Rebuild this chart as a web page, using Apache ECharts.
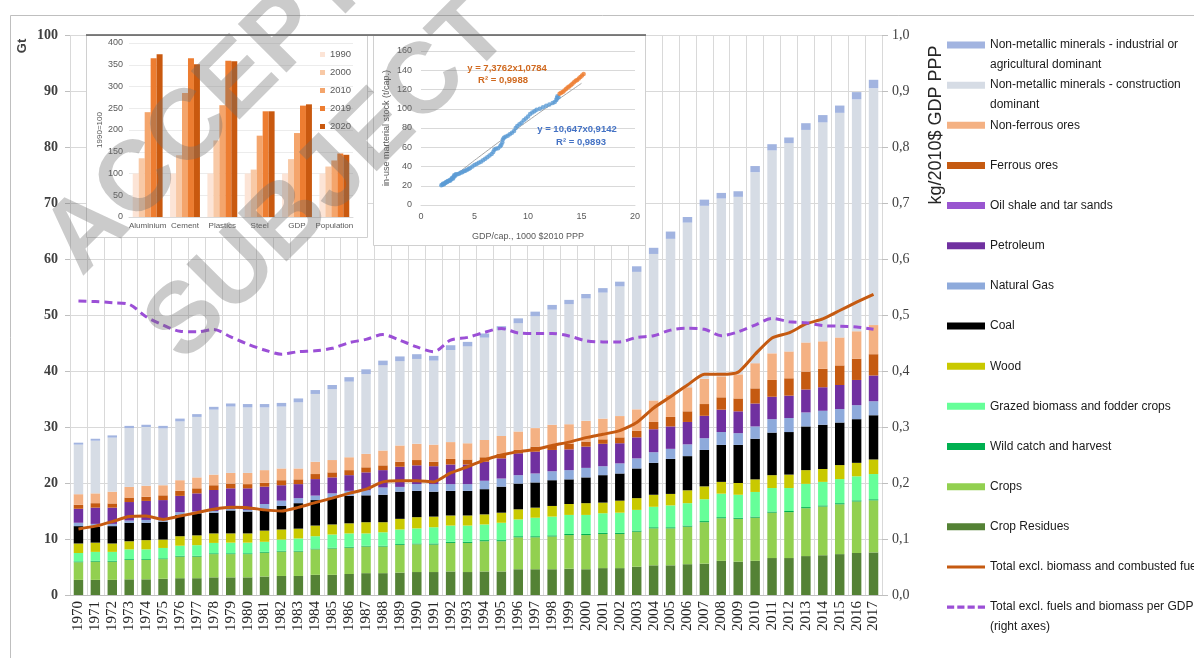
<!DOCTYPE html>
<html>
<head>
<meta charset="utf-8">
<script src="https://cdn.jsdelivr.net/npm/echarts/dist/echarts.min.js"></script>
<style>
  html, body { margin: 0; padding: 0; background: #ffffff; }
  #chart { width: 1194px; height: 658px; }
</style>
</head>
<body>
<div id="chart"></div>
<script>
// ---- Global material extraction, 1970-2017 (Gt) ----
const years = ['1970','1971','1972','1973','1974','1975','1976','1977','1978','1979',
  '1980','1981','1982','1983','1984','1985','1986','1987','1988','1989',
  '1990','1991','1992','1993','1994','1995','1996','1997','1998','1999',
  '2000','2001','2002','2003','2004','2005','2006','2007','2008','2009',
  '2010','2011','2012','2013','2014','2015','2016','2017'];

const cropResidues = [2.7,2.7,2.7,2.8,2.8,2.9,3.0,3.0,3.15,3.15, 3.15,3.3,3.4,3.4,3.6,3.6,3.75,3.9,3.9,4.0,
  4.1,4.1,4.2,4.1,4.2,4.2,4.6,4.6,4.6,4.7, 4.6,4.8,4.8,5.05,5.3,5.3,5.5,5.6,6.1,5.95, 6.1,6.6,6.6,6.95,7.1,7.3,7.5,7.6];
const crops = [3.15,3.25,3.25,3.45,3.45,3.5,3.85,3.85,4.15,4.15, 4.15,4.25,4.35,4.35,4.55,4.7,4.7,4.75,4.75,4.95,
  4.95,4.9,5.1,5.2,5.4,5.4,5.7,5.7,5.85,6.0, 6.1,6.1,6.1,6.25,6.6,6.6,6.7,7.4,7.6,7.65, 7.7,8.1,8.2,8.55,8.7,8.9,9.2,9.3];
const wildCatch = [0.15,0.15,0.15,0.15,0.15,0.15,0.15,0.15,0.15,0.15, 0.15,0.15,0.15,0.15,0.15,0.15,0.15,0.15,0.15,0.15,
  0.15,0.2,0.2,0.2,0.2,0.2,0.2,0.2,0.2,0.2, 0.2,0.2,0.2,0.2,0.2,0.2,0.2,0.2,0.2,0.2, 0.2,0.2,0.2,0.2,0.2,0.2,0.2,0.2];
const grazed = [1.5,1.6,1.6,1.75,1.75,1.85,1.8,1.9,1.85,1.9, 1.9,1.8,2.0,2.2,2.2,2.35,2.4,2.2,2.4,2.6,
  2.7,2.9,2.9,2.9,2.8,3.1,3.0,3.3,3.35,3.4, 3.4,3.5,3.6,3.7,3.65,3.9,4.0,3.9,4.2,4.1, 4.4,4.2,4.1,4.15,4.2,4.3,4.3,4.5];
const wood = [1.7,1.65,1.5,1.45,1.65,1.5,1.7,1.75,1.7,1.65, 1.65,2.0,1.8,1.75,1.9,1.8,1.8,2.0,1.8,1.9,
  2.0,1.9,1.8,1.8,1.8,1.8,1.8,1.8,1.9,1.95, 2.1,1.9,2.15,2.1,2.15,2.05,2.3,2.3,2.1,2.1, 2.25,2.3,2.4,2.45,2.3,2.5,2.4,2.6];
const coal = [3.1,2.85,3.1,3.3,3.1,3.2,3.8,3.95,3.7,4.1, 3.9,3.7,4.2,4.55,4.55,4.8,4.9,4.8,4.9,4.85,
  4.7,4.45,4.4,4.4,4.5,4.65,4.6,4.5,4.6,4.4, 4.6,4.9,4.85,5.3,5.7,6.25,6.1,6.5,6.6,6.8, 7.25,7.6,7.6,7.8,7.9,7.6,7.8,7.9];
const naturalGas = [0.6,0.5,0.4,0.4,0.5,0.4,0.5,0.3,0.3,0.25, 0.3,1.05,0.95,0.9,0.8,0.75,0.9,0.9,1.3,0.85,
  1.2,1.35,1.2,1.2,1.5,1.45,1.5,1.6,1.6,1.65, 1.7,1.6,1.8,1.8,1.9,1.8,2.1,2.1,2.3,2.1, 2.2,2.4,2.5,2.5,2.5,2.4,2.5,2.5];
const petroleum = [2.5,2.9,2.9,3.3,3.4,3.45,2.9,3.25,3.75,3.7, 3.85,3.1,2.75,2.5,2.95,2.85,2.8,3.2,3.1,3.6,
  3.35,3.2,3.5,3.5,3.4,3.6,3.9,3.9,3.8,3.7, 3.8,4.0,3.6,3.75,4.1,4.0,4.0,4.0,4.0,3.9, 4.1,4.0,4.0,4.1,4.2,4.3,4.5,4.6];
const oilShale = [0,0,0,0,0,0,0,0,0,0, 0,0,0,0,0,0,0,0,0,0, 0,0,0,0,0,0,0,0,0,0,
  0,0,0,0,0,0,0,0,0,0, 0,0,0,0,0,0,0,0];
const ferrous = [0.7,0.8,0.75,0.8,0.75,0.85,0.9,0.9,0.85,0.85, 0.75,0.7,0.9,0.85,0.9,0.9,0.9,0.9,0.85,0.9,
  0.95,0.8,1.0,0.9,0.8,0.8,0.6,0.9,0.8,1.0, 0.9,0.8,1.05,1.15,1.3,1.7,1.9,2.1,2.2,2.3, 2.7,3.0,3.1,3.2,3.3,3.5,3.8,3.8];
const nonFerrous = [1.9,1.75,2.1,1.9,1.95,1.8,1.9,1.95,1.9,1.9, 2.0,2.25,2.1,1.95,2.2,2.2,2.3,2.4,2.65,2.9,
  2.9,3.05,3.0,2.9,3.1,3.2,3.3,3.3,3.7,3.5, 3.7,3.7,3.8,3.85,3.85,3.9,4.3,4.5,3.75,4.3, 4.5,4.75,4.8,5.2,4.9,5.0,4.9,5.2];
const construction = [8.85,9.4,9.65,10.5,10.5,10.15,10.5,10.8,11.6,11.85, 11.7,11.2,11.05,11.8,12.1,12.65,13.5,14.25,15.25,15.05,
  15.15,15.0,16.45,17.3,18.25,18.9,19.35,20.0,20.55,21.45, 21.85,22.5,23.15,24.55,26.15,27.9,29.4,30.9,31.75,31.7,
  34.1,36.25,37.2,37.95,39.1,40.1,41.4,42.3];
const industrial = [0.35,0.35,0.4,0.4,0.4,0.45,0.5,0.5,0.5,0.55, 0.6,0.6,0.65,0.7,0.7,0.75,0.8,0.85,0.8,0.85,
  0.85,0.85,0.85,0.8,0.75,0.7,0.85,0.8,0.85,0.75, 0.8,0.8,0.85,1.0,1.1,1.3,1.0,1.1,1.0,1.0, 1.1,1.1,1.0,1.2,1.3,1.3,1.3,1.5];

// Total excl. biomass and combusted fuel (Gt, left axis)
const totalExclBiomassFuel = [11.8,12.3,13.1,14.0,14.1,13.5,14.1,14.7,15.3,15.65, 15.6,15.2,15.0,15.65,16.5,17.3,18.15,18.9,20.2,20.4,
  20.4,20.2,21.8,22.9,24.1,25.0,25.6,26.0,26.7,27.3, 28.1,28.7,29.35,30.8,33.4,35.4,37.5,39.4,39.4,39.8,
  43.0,45.9,46.8,48.4,49.3,50.8,52.3,53.7];
// Total excl. fuels and biomass per GDP (kg/2010$ GDP PPP, right axis)
const intensityPerGdp = [0.525,0.524,0.522,0.519,0.497,0.482,0.471,0.470,0.474,0.461, 0.448,0.4375,0.430,0.4345,0.436,0.4405,0.4505,0.4565,0.465,0.455,
  0.443,0.4345,0.455,0.46,0.469,0.476,0.468,0.467,0.467,0.4625, 0.454,0.452,0.452,0.46,0.463,0.473,0.4765,0.4745,0.463,0.47,
  0.482,0.494,0.488,0.486,0.481,0.48,0.4785,0.4745];

// ---- Inset: production index, 1990 = 100 ----
const indexCategories = ['Aluminium','Cement','Plastics','Steel','GDP','Population'];
const index1990 = [100,100,100,100,100,100];
const index2000 = [135,142,176,109,133,116];
const index2010 = [241,285,257,187,193,130];
const index2019 = [365,365,359,243,256,146];
const index2020 = [374,351,358,243,259,143];

// ---- Inset: in-use material stock vs GDP per capita ----
const stockEarly = [[1.9,20.5],[2.0,21],[2.05,22],[2.15,21.5],[2.2,22.5],[2.3,23],[2.35,24],[2.45,24],[2.5,25],[2.6,25],
  [2.7,26],[2.75,25.5],[2.85,27],[2.9,28],[3.0,27.5],[3.05,29],[3.1,31],[3.2,30.5],[3.25,32],[3.4,32],
  [3.55,32.5],[3.7,33.5],[3.85,34],[4.0,35],[4.15,35.5],[4.3,36.5],[4.45,37.5],[4.6,38.5],[4.8,40],[5.0,41.5],
  [5.2,42.5],[5.4,44],[5.6,45],[5.8,46.5],[6.0,48],[6.2,49.5],[6.4,51.5],[6.6,53],[6.75,55],[6.85,57.5],
  [7.0,58.5],[7.2,59],[7.4,61],[7.5,62.5],[7.6,65],[7.65,68],[7.75,70],[7.9,71],[8.1,72],[8.3,73.5],
  [8.5,75],[8.7,77],[8.85,80],[9.0,82],[9.2,84],[9.4,85.5],[9.6,88],[9.8,90],[10.0,92],[10.2,94.5],
  [10.4,96],[10.6,97.5],[10.8,99],[11.1,100],[11.4,101.5],[11.7,103],[12.0,104.5],[12.3,106],[12.5,107],[12.65,109],
  [12.7,111],[12.75,113],[12.85,112]];
const stockRecent = [[12.95,115.5],[13.1,116.5],[13.25,117.5],[13.4,119],[13.55,120.5],[13.7,122],[13.85,123],[14.0,124.5],
  [14.15,126],[14.3,127.5],[14.45,129],[14.6,130],[14.75,131.5],[14.9,133],[15.05,134.5],[15.2,136]];
// power trend y = 10,647 x^0,9142 evaluated at a few GDP values
const stockTrend = [[2,20.1],[4,37.8],[6,54.8],[8,71.3],[10,87.4],[12,103.2],[15,126.4]];

const serifFont = '"Liberation Serif", "DejaVu Serif", serif';
const sansFont = '"Liberation Sans", Arial, sans-serif';

const layers = [
  ['Crop Residues', cropResidues, '#548235'],
  ['Crops', crops, '#92d050'],
  ['Wild catch and harvest', wildCatch, '#00b050'],
  ['Grazed biomass and fodder crops', grazed, '#66ff99'],
  ['Wood', wood, '#c9c900'],
  ['Coal', coal, '#000000'],
  ['Natural Gas', naturalGas, '#8eaadb'],
  ['Petroleum', petroleum, '#7030a0'],
  ['Oil shale and tar sands', oilShale, '#9955d0'],
  ['Ferrous ores', ferrous, '#c55a11'],
  ['Non-ferrous ores', nonFerrous, '#f4b183'],
  ['Non-metallic minerals - construction dominant', construction, '#d6dce5'],
  ['Non-metallic minerals - industrial or agricultural dominant', industrial, '#a2b4e0']
];
const lineTotalName = 'Total excl. biomass and combusted fuel';
const lineGdpName = 'Total excl. fuels and biomass per GDP (right axes)';

const legendFirstLine = {
  'Non-metallic minerals - industrial or agricultural dominant': 'Non-metallic minerals - industrial or',
  'Non-metallic minerals - construction dominant': 'Non-metallic minerals - construction',
  'Total excl. fuels and biomass per GDP (right axes)': 'Total excl. fuels and biomass per GDP'
};

const series = layers.map(([name, data, color]) => ({
  name, type: 'bar', stack: 'materials', data,
  xAxisIndex: 0, yAxisIndex: 0,
  barCategoryGap: '44%',
  itemStyle: { color },
  emphasis: { disabled: true },
  z: 2
}));
series.push({
  name: lineTotalName, type: 'line', data: totalExclBiomassFuel,
  xAxisIndex: 0, yAxisIndex: 0, symbol: 'none', smooth: 0.2,
  lineStyle: { color: '#c55a11', width: 3 }, itemStyle: { color: '#c55a11' }, z: 4
});
series.push({
  name: lineGdpName, type: 'line', data: intensityPerGdp,
  xAxisIndex: 0, yAxisIndex: 1, symbol: 'none', smooth: 0.3,
  lineStyle: { color: '#9b4fd6', width: 3, type: [8, 5] }, itemStyle: { color: '#9b4fd6' }, z: 4
});

// inset index bars
const indexColors = ['#fce4d6', '#f8c9a6', '#f4a56c', '#ed7d31', '#c9590f'];
[['1990', index1990], ['2000', index2000], ['2010', index2010], ['2019', index2019], ['2020', index2020]]
  .forEach(([name, data], i) => {
    series.push({
      name, type: 'bar', data, xAxisIndex: 1, yAxisIndex: 2,
      barGap: '0%', barCategoryGap: '20%',
      itemStyle: { color: indexColors[i] }, z: 12
    });
  });

// inset stock scatter
series.push({
  name: 'trend', type: 'line', data: stockTrend, xAxisIndex: 2, yAxisIndex: 3,
  symbol: 'none', smooth: true, lineStyle: { color: '#a6a6a6', width: 1 }, z: 11, silent: true
});
series.push({
  name: 'stock early', type: 'scatter', data: stockEarly, xAxisIndex: 2, yAxisIndex: 3,
  symbolSize: 4.5, itemStyle: { color: '#5b9bd5' }, z: 12
});
series.push({
  name: 'stock recent', type: 'scatter', data: stockRecent, xAxisIndex: 2, yAxisIndex: 3,
  symbolSize: 4.5, itemStyle: { color: '#ed7d31' }, z: 12
});

// legend: colour swatches for bars, a solid and a dashed stroke for the two lines
const mainLegendData = layers.slice().reverse().map(l => ({ name: l[0], icon: 'rect' }));
mainLegendData.push({ name: lineTotalName, icon: 'path://M0,0h38v3h-38z' });
mainLegendData.push({ name: lineGdpName, icon: 'path://M0,0h7v3h-7z M10,0h7v3h-7z M20,0h7v3h-7z M30,0h7v3h-7z' });

const legendFont = '12px ' + sansFont;
const legendTextStyle = { fontFamily: sansFont, fontSize: 12, color: '#1a1a1a', lineHeight: 16 };
const watermarkFill = 'rgba(110,110,110,0.36)';

const option = {
  backgroundColor: '#ffffff',
  animation: false,
  grid: [
    { left: 70, right: 312, top: 35, bottom: 63, containLabel: false, outerBoundsMode: 'none' },
    { left: 129, top: 43, width: 224, height: 174, containLabel: false, outerBoundsMode: 'none' },
    { left: 421, top: 51, width: 214, height: 154, containLabel: false, outerBoundsMode: 'none' }
  ],
  xAxis: [
    {
      gridIndex: 0, type: 'category', data: years, boundaryGap: true,
      axisLine: { lineStyle: { color: '#bfbfbf' } },
      axisTick: { show: false },
      splitLine: { show: true, lineStyle: { color: '#d9d9d9', width: 1 } },
      axisLabel: { rotate: 90, interval: 0, margin: 6, fontFamily: serifFont, fontSize: 15, color: '#262626' }
    },
    {
      gridIndex: 1, type: 'category', data: indexCategories, z: 11,
      axisLine: { lineStyle: { color: '#d9d9d9' } }, axisTick: { show: false },
      axisLabel: { interval: 0, margin: 5, fontFamily: sansFont, fontSize: 8, color: '#595959' }
    },
    {
      gridIndex: 2, type: 'value', min: 0, max: 20, interval: 5, z: 11,
      axisLine: { lineStyle: { color: '#d9d9d9' } }, axisTick: { show: false }, splitLine: { show: false },
      axisLabel: { margin: 7, fontFamily: sansFont, fontSize: 9, color: '#595959' },
      name: 'GDP/cap., 1000 $2010 PPP', nameLocation: 'middle', nameGap: 27,
      nameTextStyle: { fontFamily: sansFont, fontSize: 9, color: '#595959' }
    }
  ],
  yAxis: [
    {
      gridIndex: 0, type: 'value', min: 0, max: 100, interval: 10,
      axisLine: { show: false },
      axisTick: { show: true, length: 5, lineStyle: { color: '#bfbfbf' } },
      splitLine: { show: true, lineStyle: { color: '#d9d9d9', width: 1 } },
      axisLabel: { margin: 12, fontFamily: serifFont, fontWeight: 'bold', fontSize: 14, color: '#404040' }
    },
    {
      gridIndex: 0, type: 'value', min: 0, max: 1, interval: 0.1, position: 'right',
      axisLine: { show: false },
      axisTick: { show: true, length: 6, lineStyle: { color: '#bfbfbf' } },
      splitLine: { show: false },
      axisLabel: { margin: 10, fontFamily: serifFont, fontSize: 14, color: '#404040',
        formatter: v => v.toFixed(1).replace('.', ',') }
    },
    {
      gridIndex: 1, type: 'value', min: 0, max: 400, interval: 50, z: 11,
      axisLine: { show: false }, axisTick: { show: false },
      splitLine: { show: true, lineStyle: { color: '#ececec' } },
      axisLabel: { margin: 6, fontFamily: sansFont, fontSize: 9, color: '#595959' },
      name: '1990=100', nameLocation: 'middle', nameRotate: 90, nameGap: 25,
      nameTextStyle: { fontFamily: sansFont, fontSize: 8, color: '#595959' }
    },
    {
      gridIndex: 2, type: 'value', min: 0, max: 160, interval: 20, z: 11,
      axisLine: { show: false }, axisTick: { show: false },
      splitLine: { show: true, lineStyle: { color: '#d9d9d9' } },
      axisLabel: { margin: 9, fontFamily: sansFont, fontSize: 9, color: '#595959' },
      name: 'in-use marterial stock (t/cap.)', nameLocation: 'middle', nameRotate: 90, nameGap: 30,
      nameTextStyle: { fontFamily: sansFont, fontSize: 9, color: '#595959' }
    }
  ],
  legend: [
    {
      left: 947, top: 37, padding: 0, orient: 'vertical', itemWidth: 38, itemHeight: 7, itemGap: 24.15,
      selectedMode: false, textStyle: legendTextStyle, data: mainLegendData,
      formatter: name => legendFirstLine[name] || name
    },
    {
      left: 320, top: 49, padding: 0, orient: 'vertical', itemWidth: 5, itemHeight: 5, itemGap: 7, z: 20,
      selectedMode: false, icon: 'rect',
      textStyle: { fontFamily: sansFont, fontSize: 9.5, color: '#595959', lineHeight: 11 },
      data: ['1990', '2000', '2010', '2019', '2020']
    }
  ],
  graphic: {
    elements: [
      // outer frame
      { type: 'rect', z: 0, silent: true, shape: { x: 10.5, y: 15.5, width: 1200, height: 700 },
        style: { fill: 'none', stroke: '#bfbfbf', lineWidth: 1 } },
      // inset panels
      { type: 'rect', z: 5, silent: true, shape: { x: 86.5, y: 35.5, width: 281, height: 202 },
        style: { fill: '#ffffff', stroke: '#d0d0d0', lineWidth: 1 } },
      { type: 'rect', z: 5, silent: true, shape: { x: 373.5, y: 35.5, width: 272, height: 210 },
        style: { fill: '#ffffff', stroke: '#d0d0d0', lineWidth: 1 } },
      { type: 'line', z: 6, silent: true, shape: { x1: 86, y1: 35, x2: 646, y2: 35 },
        style: { stroke: '#595959', lineWidth: 1.5 } },
      // axis titles
      { type: 'text', x: 22, y: 46, rotation: Math.PI / 2, silent: true,
        style: { text: 'Gt', font: 'bold 13px ' + sansFont, fill: '#404040', textAlign: 'center', textVerticalAlign: 'middle' } },
      { type: 'text', x: 936, y: 125, rotation: Math.PI / 2, silent: true,
        style: { text: 'kg/2010$ GDP PPP', font: '18px ' + sansFont, fill: '#262626', textAlign: 'center', textVerticalAlign: 'middle' } },
      // second lines of wrapped legend entries
      { type: 'text', x: 990, y: 65, silent: true,
        style: { text: 'agricultural dominant', font: legendFont, fill: '#1a1a1a', textVerticalAlign: 'middle' } },
      { type: 'text', x: 990, y: 105, silent: true,
        style: { text: 'dominant', font: legendFont, fill: '#1a1a1a', textVerticalAlign: 'middle' } },
      { type: 'text', x: 990, y: 627, silent: true,
        style: { text: '(right axes)', font: legendFont, fill: '#1a1a1a', textVerticalAlign: 'middle' } },
      // trend equations
      { type: 'text', x: 507, y: 68, z: 15, silent: true,
        style: { text: 'y = 7,3762x1,0784', font: 'bold 9.5px ' + sansFont, fill: '#d0691f', textAlign: 'center', textVerticalAlign: 'middle' } },
      { type: 'text', x: 503, y: 80, z: 15, silent: true,
        style: { text: 'R² = 0,9988', font: 'bold 9.5px ' + sansFont, fill: '#d0691f', textAlign: 'center', textVerticalAlign: 'middle' } },
      { type: 'text', x: 577, y: 129, z: 15, silent: true,
        style: { text: 'y = 10,647x0,9142', font: 'bold 9.5px ' + sansFont, fill: '#4472c4', textAlign: 'center', textVerticalAlign: 'middle' } },
      { type: 'text', x: 581, y: 142, z: 15, silent: true,
        style: { text: 'R² = 0,9893', font: 'bold 9.5px ' + sansFont, fill: '#4472c4', textAlign: 'center', textVerticalAlign: 'middle' } },
      // watermark
      { type: 'text', x: 62, y: 258, rotation: Math.PI / 4, z: 50, silent: true,
        style: { text: 'ACCEPTED', font: 'bold 100px ' + sansFont, fill: watermarkFill, textAlign: 'left', textVerticalAlign: 'middle' } },
      { type: 'text', x: 164, y: 345, rotation: Math.PI / 4, z: 50, silent: true,
        style: { text: 'SUBJECT TO', font: 'bold 100px ' + sansFont, fill: watermarkFill, textAlign: 'left', textVerticalAlign: 'middle' } }
    ]
  },
  series
};

const chart = echarts.init(document.getElementById('chart'), null, { renderer: 'canvas' });
chart.setOption(option);
</script>
</body>
</html>
